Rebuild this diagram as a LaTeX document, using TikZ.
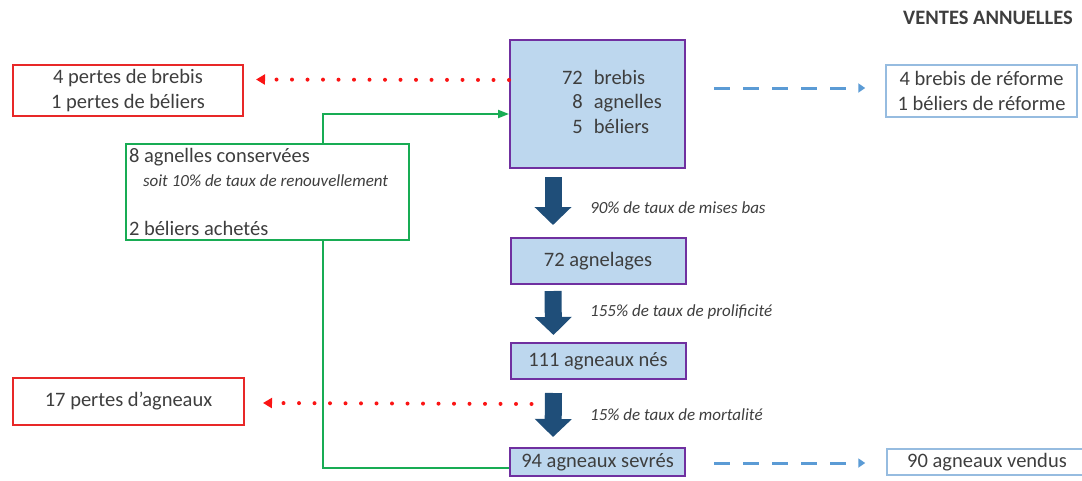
\documentclass[tikz,border=0pt]{standalone}
\usepackage{fontspec}
\setmainfont{Carlito}
\usetikzlibrary{calc,arrows.meta}

\definecolor{texte}{RGB}{62,62,62}
\definecolor{perte}{RGB}{232,40,40}
\definecolor{pointille}{RGB}{250,20,20}
\definecolor{renouv}{RGB}{24,172,84}
\definecolor{violet}{RGB}{112,48,160}
\definecolor{bleuclair}{RGB}{189,215,238}
\definecolor{bleufonce}{RGB}{31,78,121}
\definecolor{vente}{RGB}{91,155,213}
\definecolor{ventebord}{RGB}{150,188,224}

\tikzset{
  texteprinc/.style={text=texte, font=\fontsize{20.5}{24.6}\selectfont},
  etape/.style={texteprinc, draw=violet, fill=bleuclair, line width=2pt, inner sep=2pt},
  pertebox/.style={texteprinc, draw=perte, line width=2pt, align=center, inner sep=2pt},
  ventebox/.style={texteprinc, draw=ventebord, line width=1.5pt, align=center, inner sep=2pt},
  gardebox/.style={texteprinc, draw=renouv, line width=2pt, align=flush left, inner sep=3pt},
  taux/.style={text=texte, anchor=west, inner sep=0pt, font=\fontsize{17}{20}\selectfont\itshape},
  titre/.style={text=texte, font=\fontsize{20.5}{24.6}\selectfont\bfseries},
  grosse/.style={draw=bleufonce, line width=17pt, -{Triangle[length=18pt,width=36pt]}},
  pertearrow/.style={pointille, line width=4pt, line cap=round, dash pattern=on 0pt off 15.5pt,
    -{Triangle[length=9pt,width=10pt,line cap=butt]}},
  ventearrow/.style={vente, line width=3pt, dash pattern=on 16pt off 13pt,
    -{Triangle[length=7pt,width=9pt]}},
  gardearrow/.style={renouv, line width=2pt, -{Triangle[length=11pt,width=8pt]}}
}

\begin{document}
\begin{tikzpicture}[x=1pt,y=-1pt]
  %%%%% START %%%%%
  \useasboundingbox (0,0) rectangle (1082,480);

  \node[titre] (ventes) at (988,18) {VENTES ANNUELLES};

  % colonne centrale
  \node[etape, minimum width=175pt, minimum height=128pt] (troupeau) at (597.5,104)
    {\hspace*{29pt}\begin{tabular}{@{}r@{\hspace{11pt}}l@{}}72&brebis\\8&agnelles\\5&béliers\end{tabular}};
  \node[etape, minimum width=175pt, minimum height=46pt] (agnelages) at (598,261) {72 agnelages};
  \node[etape, minimum width=175pt, minimum height=36pt] (nes) at (598,361) {111 agneaux nés};
  \node[etape, minimum width=175pt, minimum height=28pt] (sevres) at (597.5,462) {94 agneaux sevrés};

  \draw[grosse] ($(troupeau.south west)+(44,8)$) -- ($(agnelages.north west)+(43.5,-12)$);
  \draw[grosse] ($(agnelages.south west)+(43.5,6)$) -- ($(nes.north west)+(44,-7)$);
  \draw[grosse] ($(nes.south west)+(44,13)$) -- ($(sevres.north west)+(44,-10)$);

  \node[taux] (misesbas) at (590,208) {90\% de taux de mises bas};
  \node[taux] (prolif) at (590,312) {155\% de taux de prolificité};
  \node[taux] (mortal) at (590,415) {15\% de taux de mortalité};

  % pertes
  \node[pertebox, minimum width=230pt, minimum height=51pt] (pertesadultes) at (128,90.5)
    {4 pertes de brebis\\1 pertes de béliers};
  \node[pertebox, minimum width=231pt, minimum height=47pt] (pertesagneaux) at (128.5,401.5)
    {17 pertes d'agneaux};

  \draw[pertearrow] ([yshift=24pt]troupeau.west) -- ($(pertesadultes.east)+(12,-11)$);
  \draw[pertearrow] ($(nes.south west)+(22,24)$) -- ($(pertesagneaux.east)+(18,1.5)$);

  % renouvellement
  \node[gardebox, minimum width=283pt, minimum height=96pt, text width=277pt] (garde) at (267.5,192)
    {8 agnelles conservées\\[-1pt]
     \hspace*{14pt}{\fontsize{17}{20}\selectfont\itshape soit 10\% de taux de renouvellement}\\[24pt]
     2 béliers achetés};

  \draw[gardearrow] ([xshift=55.5pt]garde.north) |- ($(troupeau.west)+(0,10)$);
  \draw[renouv, line width=2pt] ([xshift=55.5pt]garde.south) |- ($(sevres.west)+(0,5.5)$);

  % ventes
  \node[ventebox, minimum width=191pt, minimum height=52pt] (reformes) at (981.5,91)
    {4 brebis de réforme\\1 béliers de réforme};
  \node[ventebox, minimum width=200pt, minimum height=26pt] (vendus) at (987,462) {90 agneaux vendus};

  \draw[ventearrow] ($(troupeau.east)+(28,-16)$) -- ($(reformes.west)+(-20,-3)$);
  \draw[ventearrow] ($(sevres.east)+(28,1)$) -- ($(vendus.west)+(-21,1)$);
  %%%%% END %%%%%
\end{tikzpicture}
\end{document}
